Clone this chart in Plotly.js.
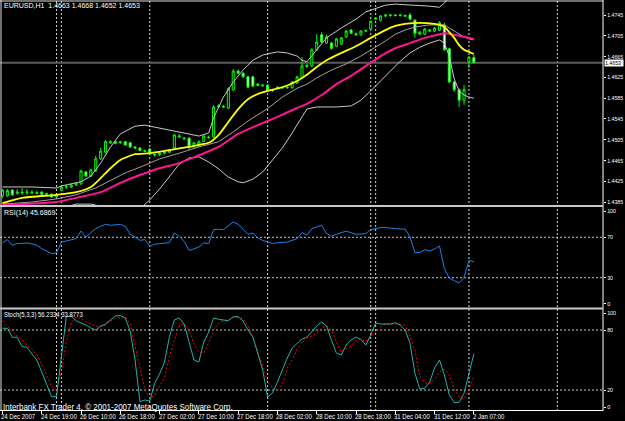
<!DOCTYPE html>
<html><head><meta charset="utf-8">
<script src="https://cdn.plot.ly/plotly-3.0.1.min.js"></script>
<style>html,body{margin:0;padding:0;background:#000;overflow:hidden}#chart{width:625px;height:421px}</style>
</head><body><div id="chart"></div>
<script>
// ---------- DATA ----------
const symbolTitle = "EURUSD,H1  1.4663 1.4668 1.4652 1.4653";
const rsiTitle = "RSI(14) 45.6869";
const stochTitle = "Stoch(5,3,3) 56.2334 33.8773";
const copyright = "Interbank FX Trader 4, \u00a9 2001-2007 MetaQuotes Software Corp.";
const lastPrice = 1.4653;

const open = [
1.4397,1.4397,1.4408,1.4402,1.4404,1.4403,1.4404,1.4403,1.4404,1.4400,
1.4400,1.4395,1.4408,1.4414,1.4414,1.4418,1.4420,1.4443,1.4435,1.4445,
1.4468,1.4481,1.4499,1.4501,1.4499,1.4501,1.4499,1.4491,1.4489,1.4484,
1.4487,1.4477,1.4476,1.4479,1.4481,1.4489,1.4510,1.4508,1.4508,1.4493,
1.4493,1.4502,1.4510,1.4510,1.4568,1.4569,1.4566,1.4601,1.4637,1.4633,
1.4626,1.4626,1.4612,1.4610,1.4610,1.4601,1.4604,1.4606,1.4605,1.4605,
1.4614,1.4624,1.4646,1.4647,1.4678,1.4707,1.4691,1.4691,1.4685,1.4689,
1.4703,1.4716,1.4709,1.4707,1.4714,1.4718,1.4737,1.4735,1.4743,1.4744,
1.4745,1.4744,1.4744,1.4745,1.4735,1.4708,1.4708,1.4714,1.4714,1.4716,
1.4726,1.4680,1.4616,1.4601,1.4581,1.4655,1.4663];
const high = [
1.4410,1.4410,1.4410,1.4410,1.4412,1.4410,1.4408,1.4407,1.4406,1.4403,
1.4402,1.4400,1.4416,1.4418,1.4420,1.4422,1.4447,1.4445,1.4449,1.4474,
1.4489,1.4504,1.4504,1.4503,1.4503,1.4503,1.4501,1.4493,1.4491,1.4486,
1.4489,1.4479,1.4481,1.4483,1.4487,1.4516,1.4516,1.4510,1.4510,1.4501,
1.4504,1.4514,1.4513,1.4572,1.4573,1.4572,1.4606,1.4641,1.4640,1.4635,
1.4628,1.4628,1.4614,1.4612,1.4612,1.4603,1.4608,1.4608,1.4608,1.4618,
1.4628,1.4664,1.4651,1.4681,1.4708,1.4712,1.4707,1.4693,1.4701,1.4703,
1.4716,1.4718,1.4711,1.4716,1.4717,1.4735,1.4741,1.4745,1.4747,1.4747,
1.4747,1.4747,1.4746,1.4749,1.4737,1.4714,1.4720,1.4718,1.4722,1.4733,
1.4730,1.4682,1.4618,1.4603,1.4610,1.4666,1.4668];
const low = [
1.4393,1.4395,1.4397,1.4399,1.4399,1.4399,1.4400,1.4400,1.4399,1.4399,
1.4393,1.4393,1.4406,1.4410,1.4412,1.4416,1.4418,1.4433,1.4433,1.4443,
1.4466,1.4479,1.4497,1.4496,1.4497,1.4493,1.4489,1.4487,1.4483,1.4481,
1.4475,1.4472,1.4474,1.4477,1.4479,1.4485,1.4508,1.4504,1.4485,1.4489,
1.4491,1.4500,1.4507,1.4508,1.4566,1.4566,1.4564,1.4599,1.4631,1.4624,
1.4604,1.4606,1.4608,1.4607,1.4597,1.4597,1.4602,1.4603,1.4603,1.4603,
1.4612,1.4622,1.4643,1.4645,1.4676,1.4691,1.4689,1.4678,1.4683,1.4687,
1.4701,1.4708,1.4705,1.4705,1.4712,1.4716,1.4735,1.4733,1.4741,1.4742,
1.4742,1.4742,1.4741,1.4735,1.4701,1.4706,1.4706,1.4712,1.4712,1.4714,
1.4676,1.4614,1.4597,1.4568,1.4572,1.4643,1.4652];
const close = [
1.4408,1.4407,1.4399,1.4404,1.4403,1.4404,1.4403,1.4402,1.4400,1.4401,
1.4395,1.4399,1.4414,1.4415,1.4418,1.4421,1.4445,1.4435,1.4447,1.4468,
1.4483,1.4501,1.4501,1.4498,1.4501,1.4495,1.4491,1.4489,1.4484,1.4483,
1.4477,1.4476,1.4479,1.4481,1.4485,1.4514,1.4512,1.4507,1.4491,1.4499,
1.4501,1.4512,1.4509,1.4568,1.4570,1.4568,1.4603,1.4637,1.4633,1.4626,
1.4606,1.4608,1.4610,1.4609,1.4599,1.4600,1.4606,1.4605,1.4606,1.4616,
1.4626,1.4647,1.4648,1.4678,1.4693,1.4693,1.4703,1.4681,1.4699,1.4701,
1.4714,1.4710,1.4707,1.4714,1.4715,1.4733,1.4739,1.4743,1.4745,1.4745,
1.4744,1.4745,1.4743,1.4737,1.4710,1.4712,1.4718,1.4716,1.4720,1.4730,
1.4678,1.4616,1.4601,1.4581,1.4601,1.4664,1.4653];

// Bollinger bands (read at sample bars)
const bbUpperBars = [0,6,11,12,16,18,20,22,24,27,29,31,34,37,40,42,43,45,47,49,51,53,56,58,60,61,62,64,66,69,72,74,76,78,80,84,87,89,90,91,92,93,94,95,96];
const bbUpper = [1.4414,1.4414,1.4412,1.4416,1.4424,1.4435,1.4460,1.4491,1.4516,1.4531,1.4533,1.4529,1.4524,1.4518,1.4512,1.4518,1.4547,1.4587,1.4616,1.4639,1.4658,1.4668,1.4674,1.4672,1.4666,1.4658,1.4655,1.4678,1.4701,1.4720,1.4737,1.4751,1.4758,1.4764,1.4766,1.4764,1.4762,1.4760,1.4768,1.4782,1.4793,1.4800,1.4803,1.4805,1.4806];
const bbMidBars = [0,6,11,15,19,22,25,28,32,36,40,44,47,50,54,57,60,62,64,67,70,73,76,78,80,82,84,87,89,90,91,92,93,94,95,96];
const bbMid = [1.4381,1.4385,1.4391,1.4399,1.4412,1.4427,1.4441,1.4452,1.4468,1.4479,1.4491,1.4501,1.4520,1.4541,1.4565,1.4587,1.4604,1.4612,1.4624,1.4639,1.4651,1.4666,1.4683,1.4695,1.4708,1.4716,1.4722,1.4726,1.4726,1.4726,1.4720,1.4714,1.4708,1.4703,1.4699,1.4697];
const bbLowerBars = [0,6,11,15,18,20,22,25,28,30,32,34,36,38,40,42,44,46,48,49,51,53,55,57,59,61,62,64,68,71,73,75,77,79,81,83,85,87,89,90,91,92,93,94,95,96];
const bbLower = [1.4348,1.4356,1.4370,1.4381,1.4381,1.4377,1.4364,1.4360,1.4372,1.4389,1.4410,1.4435,1.4458,1.4470,1.4472,1.4462,1.4449,1.4433,1.4424,1.4422,1.4429,1.4443,1.4466,1.4489,1.4518,1.4549,1.4564,1.4568,1.4568,1.4570,1.4581,1.4599,1.4618,1.4637,1.4656,1.4672,1.4683,1.4691,1.4697,1.4691,1.4666,1.4622,1.4599,1.4591,1.4587,1.4585];

// Moving averages
const yellowBars = [0,4,11,15,18,20,22,24,27,30,34,38,40,42,44,46,48,50,52,54,57,60,62,64,66,69,72,75,78,80,82,85,88,89,90,91,92,93,94,95,96];
const yellowMA = [1.4383,1.4393,1.4399,1.4404,1.4414,1.4431,1.4450,1.4466,1.4477,1.4479,1.4485,1.4491,1.4495,1.4499,1.4514,1.4539,1.4564,1.4583,1.4593,1.4599,1.4606,1.4618,1.4630,1.4645,1.4658,1.4672,1.4685,1.4701,1.4716,1.4724,1.4728,1.4730,1.4728,1.4726,1.4722,1.4712,1.4701,1.4687,1.4678,1.4674,1.4670];
const magentaBars = [0,4,11,15,20,24,28,32,36,40,44,48,52,56,60,62,65,68,71,74,77,80,83,86,89,90,92,94,96];
const magentaMA = [1.4379,1.4381,1.4385,1.4393,1.4404,1.4422,1.4437,1.4450,1.4460,1.4475,1.4491,1.4516,1.4533,1.4549,1.4566,1.4574,1.4591,1.4612,1.4628,1.4647,1.4666,1.4681,1.4691,1.4701,1.4708,1.4710,1.4707,1.4703,1.4699];

// RSI(14)
const rsi = [64.4,67.7,62.1,63.8,64,64.4,63.5,62.1,58.8,56, 53.9,54.5,65.3,66.3,67.5,68.7,76.2,70.3,74.5,78.6,
 81,82.9,81.9,82.5,82.9,80.9,72.9,70.3,67,67.7, 61.4,63.1,63.5,64,64.8,74.3,71,66,57.1,58.5,
 60.4,64.4,63.8,77.6,78,77.6,81.5,85.1,82.9,78, 73,74.3,69.3,67,65.3,63.8,64.5,65,65.3,67,
 68.7,74.7,72,78.6,80.5,81.9,73.7,71,73,74.5, 76.2,74.5,73,73.3,73.7,77.6,78.5,79.6,79.6,79,
 78.2,78.2,78.2,70.3,54.9,54.9,57.8,56.4,58.5,61.4, 39,29.7,27,24.8,30.1,47.2,45.69];

// Stochastic(5,3,3)
const stochMain = [81.7,81.7,72.7,72.7,63.3,62.7,56,50,38,25, 13.3,13.3,53.3,93.3,94,89.3,87,85,82,80,
 84,86,90,94,94.5,92,79,50,8.3,10, 9,26.7,36,48,73.3,90,92,86,68,50,
 48,68,78,92,90.7,90,89.3,93.3,93.3,89, 80,73,57,40,13,17,28,40,52,62,
 67,71,72.7,78,84,88,84,70,57,55, 65,70,73,70.5,65,75,87,86,86,86,
 87.3,85,80,66.7,36.7,21,21.7,28,42,50, 35,15,7.5,7.7,16.7,36.7,56.23];
const stochSignal = [89.3,84,78,74,70,65,61,55,46,35, 24,20,39,68,87,93,91.5,88,86,84,
 83.5,85,89,91.5,93,93.3,86,65,41,20, 11.7,15,24,32,53,70,84,86,80,66,
 58,57,67,80,87,89,90,92,92.5,91, 84,73,58,45,28,22,20,26,42,50,
 61,68,72,74,77,82,84,80,68,58, 61,64,69,71,68.5,74,78,83,86,86,
 86,86,84.5,74,60,33.3,27,27,30,38, 41,35,21,13,11,20,33.88];

// Axis labels
const priceTicks = [1.4385,1.4425,1.4465,1.4505,1.4545,1.4585,1.4625,1.4665,1.4705,1.4745];
const dateLabelBars = [0,8,16,24,32,40,48,56,64,72,80,88,96];
const dateLabels = ["24 Dec 2007","24 Dec 19:00","26 Dec 10:00","26 Dec 18:00","27 Dec 02:00","27 Dec 10:00","27 Dec 18:00","28 Dec 02:00","28 Dec 10:00","28 Dec 18:00","31 Dec 04:00","31 Dec 12:00","2 Jan 07:00"];
const daySeparatorBars = [11,12,30,54,75,76,95,113];
const rsiLevels = [30,70];
const stochLevels = [20,80];
const rsiTickVals = [4,30,70,96], rsiTickText = ["0","30","70","100"];
const stochTickVals = [3,20,80,97], stochTickText = ["0","20","80","100"];

// ---------- LAYOUT HELPERS ----------
const PH = 411, PW = 603;          // plot area in pixels
const dom = (top, bottom) => [1 - bottom / PH, 1 - top / PH];
const px = v => v / PW, py = v => 1 - v / PH;
const FONT = "Liberation Sans, Arial, sans-serif";
const bars = Array.from({length: open.length}, (_, i) => i);

const traces = [
  {type:'scatter', mode:'lines', x:bbUpperBars, y:bbUpper, line:{color:'#c8c8c8', width:1}, xaxis:'x', yaxis:'y'},
  {type:'scatter', mode:'lines', x:bbLowerBars, y:bbLower, line:{color:'#c8c8c8', width:1}, xaxis:'x', yaxis:'y'},
  {type:'scatter', mode:'lines', x:bbMidBars, y:bbMid, line:{color:'#a0a0a0', width:1}, xaxis:'x', yaxis:'y'},
  {type:'scatter', mode:'lines', x:magentaBars, y:magentaMA, line:{color:'#ff1493', width:2, shape:'spline', smoothing:0.6}, xaxis:'x', yaxis:'y'},
  {type:'scatter', mode:'lines', x:yellowBars, y:yellowMA, line:{color:'#ffff00', width:1.8, shape:'spline', smoothing:0.6}, xaxis:'x', yaxis:'y'},
  {type:'candlestick', x:bars, open:open, high:high, low:low, close:close, whiskerwidth:0,
   increasing:{line:{color:'#00ff00', width:1}, fillcolor:'#000000'},
   decreasing:{line:{color:'#00ff00', width:1}, fillcolor:'#ffffff'}, xaxis:'x', yaxis:'y'},
  {type:'scatter', mode:'lines', x:bars, y:rsi, line:{color:'#1e80e8', width:1}, xaxis:'x', yaxis:'y2'},
  {type:'scatter', mode:'lines', x:bars, y:stochSignal, line:{color:'#ff0000', width:1, dash:'2px,2px'}, xaxis:'x', yaxis:'y3'},
  {type:'scatter', mode:'lines', x:bars, y:stochMain, line:{color:'#20b2aa', width:1}, xaxis:'x', yaxis:'y3'}
];

const shapes = [];
daySeparatorBars.forEach(b => shapes.push({type:'line', xref:'x', yref:'paper', x0:b, x1:b, y0:0, y1:1, layer:'below', line:{color:'#d8d8d8', width:1, dash:'2px,2px'}}));
shapes.push({type:'line', xref:'paper', yref:'y', x0:0, x1:1, y0:lastPrice, y1:lastPrice, layer:'below', line:{color:'#5c5c5c', width:2}});
rsiLevels.forEach(v => shapes.push({type:'line', xref:'paper', yref:'y2', x0:0, x1:1, y0:v, y1:v, layer:'below', line:{color:'#c0c0c0', width:1, dash:'2px,2px'}}));
stochLevels.forEach(v => shapes.push({type:'line', xref:'paper', yref:'y3', x0:0, x1:1, y0:v, y1:v, layer:'below', line:{color:'#c0c0c0', width:1, dash:'2px,2px'}}));
// frame
const frame = (x0,y0,x1,y1,c,w) => shapes.push({type:'line', xref:'paper', yref:'paper', x0:px(x0), x1:px(x1), y0:py(y0), y1:py(y1), line:{color:c, width:w}});
frame(603,0,603,411,'#ffffff',1);
frame(1,0,1,411,'#e0e0e0',1);
frame(0,1,603,1,'#e0e0e0',1);
frame(0,206,603,206,'#c8c8c8',2);
frame(0,308.5,603,308.5,'#c8c8c8',2);
frame(0,410.5,603,410.5,'#ffffff',1);

const annotations = [];
const txt = (x, y, text, size, color) => annotations.push({xref:'paper', yref:'paper', x:px(x), y:py(y), xanchor:'left', yanchor:'middle', text:text, showarrow:false, font:{family:FONT, size:size, color:color}, borderpad:0});
txt(3, 6, symbolTitle, 7, '#ffffff');
txt(3, 213, rsiTitle, 7, '#ffffff');
txt(3, 315, stochTitle, 7, '#ffffff');
txt(2, 406.5, copyright, 8.5, '#ffffff');
dateLabelBars.forEach((b, k) => annotations.push({xref:'x', yref:'paper', x:b, y:py(416.5), xanchor:'left', yanchor:'middle', xshift:-2, text:dateLabels[k], showarrow:false, font:{family:FONT, size:7, color:'#ffffff'}, borderpad:0}));
annotations.push({xref:'paper', yref:'y', x:1, y:lastPrice, xanchor:'left', yanchor:'middle', xshift:1, text:lastPrice.toFixed(4), showarrow:false, bgcolor:'#ffffff', font:{family:FONT, size:5.8, color:'#000000'}, borderpad:0});

const axFont = {family:FONT, size:5.8, color:'#ffffff'};
const layout = {
  width:625, height:421, margin:{l:0, r:22, t:0, b:10},
  paper_bgcolor:'#000000', plot_bgcolor:'#000000', showlegend:false, hovermode:false,
  boxgap:0.4,
  xaxis:{domain:[0,1], range:[-0.5,122.3], anchor:'y3', showgrid:false, zeroline:false, showline:false,
         tickvals:dateLabelBars, ticks:'outside', ticklen:3, tickcolor:'#ffffff', showticklabels:false,
         rangeslider:{visible:false}},
  yaxis:{domain:dom(0,205), range:[1.43793,1.47739], side:'right', anchor:'x', showgrid:false, zeroline:false,
         tickvals:priceTicks, ticktext:priceTicks.map(v=>v.toFixed(4)), ticks:'outside', ticklen:2, tickcolor:'#ffffff', tickfont:axFont},
  yaxis2:{domain:dom(207,308), range:[0,100], side:'right', anchor:'x', showgrid:false, zeroline:false,
         tickvals:rsiTickVals, ticktext:rsiTickText, ticks:'outside', ticklen:2, tickcolor:'#ffffff', tickfont:axFont},
  yaxis3:{domain:dom(310,410), range:[0,100], side:'right', anchor:'x', showgrid:false, zeroline:false,
         tickvals:stochTickVals, ticktext:stochTickText, ticks:'outside', ticklen:2, tickcolor:'#ffffff', tickfont:axFont},
  shapes:shapes, annotations:annotations
};

// narrow the glyphs of small texts (MetaTrader uses a condensed screen font), keeping the left edge fixed
function squeeze(el, f) {
  const w = el.getComputedTextLength();
  if (!w) return;
  const b0 = el.getBBox();
  el.setAttribute('textLength', (w * f).toFixed(2));
  el.setAttribute('lengthAdjust', 'spacingAndGlyphs');
  const b1 = el.getBBox();
  const x = parseFloat(el.getAttribute('x') || '0');
  el.setAttribute('x', (x + (b0.x - b1.x)).toFixed(2));
}
Plotly.newPlot('chart', traces, layout, {staticPlot:true, displayModeBar:false}).then(gd => {
  gd.querySelectorAll('.ytick text, .y2tick text, .y3tick text').forEach(t => squeeze(t, 0.9));
  gd.querySelectorAll('.annotation-text').forEach(t => {
    const s = t.textContent;
    if (dateLabels.includes(s)) squeeze(t, 0.86);
    else if (s === stochTitle) squeeze(t, 0.85);
    else if (s === copyright) squeeze(t, 0.94);
    else if (s === lastPrice.toFixed(4)) squeeze(t, 0.9);
  });
});
</script></body></html>
